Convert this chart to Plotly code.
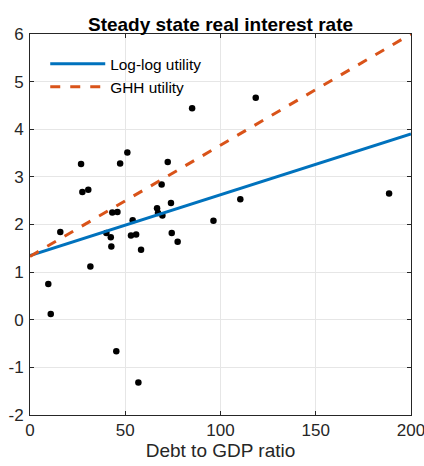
import plotly.graph_objects as go

# Scatter data: debt-to-GDP ratio vs real interest rate
debt = [9.6, 10.9, 15.9, 26.8, 27.5, 30.6, 31.7, 40.1, 42.4, 42.7, 43.2, 45.3, 45.9,
        47.3, 51.1, 53.0, 53.9, 55.7, 56.9, 58.3, 66.7, 67.2, 69.1, 69.5, 72.3, 74.0,
        74.4, 77.5, 85.1, 96.3, 110.4, 118.5, 188.5]
rate = [0.75, 0.12, 1.84, 3.27, 2.68, 2.73, 1.12, 1.82, 1.73, 1.54, 2.25, -0.66, 2.26,
        3.28, 3.51, 1.77, 2.09, 1.79, -1.32, 1.47, 2.34, 2.24, 2.84, 2.19, 3.31, 2.45,
        1.82, 1.64, 4.44, 2.08, 2.53, 4.66, 2.65]

# Model lines
line_x = [0, 200]
loglog_y = [1.35, 3.90]
ghh_y = [1.33, 6.0]

x_ticks = [0, 50, 100, 150, 200]
y_ticks = [-2, -1, 0, 1, 2, 3, 4, 5, 6]
y_tick_labels = ["-2", "-1", "0", "1", "2", "3", "4", "5", "6"]

font_family = "Liberation Sans, Arial, sans-serif"

fig = go.Figure()
fig.add_trace(go.Scatter(x=debt, y=rate, mode="markers",
                         marker=dict(color="black", size=6.5),
                         showlegend=False))
fig.add_trace(go.Scatter(x=line_x, y=loglog_y, mode="lines",
                         line=dict(color="#0072BD", width=3),
                         name="Log-log utility"))
fig.add_trace(go.Scatter(x=line_x, y=ghh_y, mode="lines",
                         line=dict(color="#D95319", width=3, dash="10px,10px"),
                         name="GHH utility"))

axis_common = dict(
    showgrid=True, gridcolor="#E6E6E6", gridwidth=1,
    showline=True, linecolor="#262626", linewidth=1, mirror="ticks",
    ticks="inside", ticklen=4, tickcolor="#262626",
    zeroline=False, automargin=False, ticklabeloverflow="allow",
    tickfont=dict(family=font_family, size=17, color="#262626"),
)

fig.update_layout(
    width=424, height=466,
    margin=dict(l=30, r=13, t=34, b=51),
    paper_bgcolor="white", plot_bgcolor="white",
    title=dict(text="<b>Steady state real interest rate</b>",
               font=dict(family=font_family, size=19, color="black"),
               x=0.5, xanchor="center", xref="paper", y=1, yref="paper",
               yanchor="bottom", pad=dict(b=3)),
    xaxis=dict(range=[0, 200], tickvals=x_ticks,
               title=dict(text="Debt to GDP ratio",
                          font=dict(family=font_family, size=19, color="#262626"),
                          standoff=4),
               **axis_common),
    yaxis=dict(range=[-2, 6], tickvals=y_ticks, ticktext=y_tick_labels,
               ticklabelstandoff=2, **axis_common),
    legend=dict(x=0.04, y=0.965, xanchor="left", yanchor="top",
                bgcolor="rgba(255,255,255,0)", borderwidth=0,
                font=dict(family=font_family, size=15.4, color="black"),
                itemwidth=55, tracegroupgap=0),
)

fig.write_html("out.html")
